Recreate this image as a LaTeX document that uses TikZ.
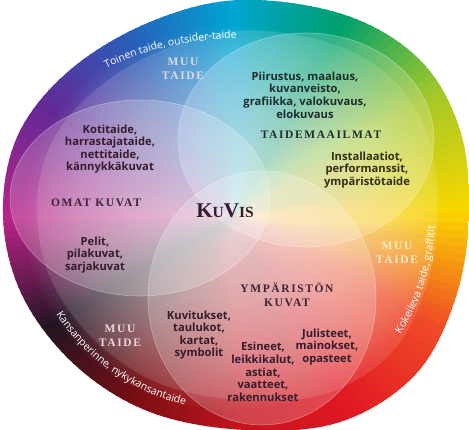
\documentclass[tikz,border=0pt]{standalone}
\usepackage{fontspec}
\setsansfont{Open Sans}
\newfontfamily\titlefont{Liberation Serif}[LetterSpace=14]
\newfontfamily\kuvisfont{Liberation Serif}
\usetikzlibrary{decorations.text}

% wheel colours, every 30 degrees
\definecolor{hue0}{RGB}{250,215,0}
\definecolor{hue1}{RGB}{165,200,40}
\definecolor{hue2}{RGB}{0,160,110}
\definecolor{hue3}{RGB}{0,165,210}
\definecolor{hue4}{RGB}{40,95,185}
\definecolor{hue5}{RGB}{100,40,150}
\definecolor{hue6}{RGB}{185,35,135}
\definecolor{hue7}{RGB}{35,20,35}
\definecolor{hue8}{RGB}{120,15,20}
\definecolor{hue9}{RGB}{195,20,30}
\definecolor{hue10}{RGB}{225,25,35}
\definecolor{hue11}{RGB}{240,75,40}

\definecolor{itemdark}{RGB}{52,28,45}
\definecolor{greendark}{RGB}{28,45,45}
\definecolor{olivedark}{RGB}{50,45,20}
\definecolor{titledark}{RGB}{62,35,55}
\definecolor{muulight}{RGB}{220,218,240}
\definecolor{muucream}{RGB}{250,230,200}
\definecolor{muupink}{RGB}{238,215,225}

\def\rimpath{plot[smooth cycle, tension=0.6] coordinates {
  (240,430) (345,415) (420,370) (460,300) (469,215) (455,130) (415,55) (340,8)
  (245,0) (150,18) (75,65) (22,135) (3,215) (18,295) (70,360) (150,408)}}
\def\curvefont{\color{white}\sffamily\fontsize{10.5}{11}\selectfont}
\def\kuvis{\kuvisfont\bfseries\fontsize{21}{20}\selectfont K\fontsize{15.5}{20}\selectfont U\fontsize{21}{20}\selectfont V\fontsize{15.5}{20}\selectfont IS}

\begin{document}
\begin{tikzpicture}[x=1pt, y=1pt,
    itemtext/.style={
      font=\sffamily\bfseries\fontsize{11.2}{12.6}\selectfont,
      align=center, text=itemdark, inner sep=0pt
    },
    titletext/.style={
      font=\titlefont\bfseries\fontsize{11.5}{14.5}\selectfont,
      align=center, inner sep=0pt
    },
    venn/.style={
      fill=white, fill opacity=0.2, draw=white, draw opacity=0.35, line width=0.6pt
    },
    curvetext/.style={
      decorate, decoration={text along path, text align=left, text={#1}}
    }
  ]
    \useasboundingbox (0,0) rectangle (469,430);
    \coordinate (wc) at (236,215);
    \coordinate (glow) at (232,212);
    \coordinate (arcc) at (245,215);

    \begin{scope}
      \clip \rimpath;
      % colour wheel
      \foreach \ca/\cb [count=\k from 0] in {hue0/hue1,hue1/hue2,hue2/hue3,hue3/hue4,
          hue4/hue5,hue5/hue6,hue6/hue7,hue7/hue8,hue8/hue9,hue9/hue10,hue10/hue11,hue11/hue0} {
        \foreach \s in {0,...,14} {
          \pgfmathsetmacro\ang{\k*30+\s*2}
          \pgfmathsetmacro\mix{\s*100/15}
          \fill[\cb!\mix!\ca] (wc) -- +(\ang:330) -- +(\ang+2.6:330) -- cycle;
        }
      }
      % lighter inside of the rim
      \fill[white, opacity=0.12, scale around={0.86:(245,212)}] \rimpath;
      \foreach \i in {1,...,44}
        \fill[white, opacity=0.028] (glow) ellipse ({212*(1-\i/46)} and {196*(1-\i/46)});

      \foreach \cx/\cy/\rx/\ry in {140/232/130/98, 306/290/128/107, 262/132/114/127}
        \filldraw[venn] (\cx,\cy) ellipse ({\rx} and {\ry});
    \end{scope}

    % texts on the rim
    \path[curvetext={|\curvefont|Toinen taide, outsider-taide}]
      ([shift={(124:248 and 177)}]arcc) arc[start angle=124, end angle=80, x radius=248, y radius=177];
    \path[curvetext={|\curvefont|Kokeileva taide, graffitit}]
      ([shift={(-35:190 and 208)}]arcc) arc[start angle=-35, end angle=2, x radius=190, y radius=208];
    \path[curvetext={|\curvefont|Kansanperinne, nykykansantaide}]
      ([shift={(210:218 and 198)}]arcc) arc[start angle=210, end angle=262, x radius=218, y radius=198];

    \foreach \px/\py/\col [count=\i] in {183/361/muulight, 397/177/muucream, 120/94/muupink}
      \node[titletext, text=\col] (muu\i) at (\px,\py) {MUU\\TAIDE};

    \node[titletext, text=titledark] (omat) at (96,227) {OMAT KUVAT};
    \node[titletext, text=greendark] (taidemaailmat) at (321,295) {TAIDEMAAILMAT};
    \node[titletext, text=titledark] (ymparisto) at (287,135) {YMPÄRISTÖN\\KUVAT};
    \node[text=itemdark, inner sep=0pt] (kuvis) at (225,219) {\kuvis};

    \node[itemtext] (koti) at (110,281) {Kotitaide,\\harrastajataide,\\nettitaide,\\kännykkäkuvat};
    \node[itemtext] (pelit) at (95,175) {Pelit,\\pilakuvat,\\sarjakuvat};
    \node[itemtext, text=greendark] (piirustus) at (305,335) {Piirustus, maalaus,\\kuvanveisto,\\grafiikka, valokuvaus,\\elokuvaus};
    \node[itemtext, text=olivedark] (install) at (367,260) {Installaatiot,\\performanssit,\\ympäristötaide};
    \node[itemtext] (kuvitus) at (199,95) {Kuvitukset,\\taulukot,\\kartat,\\symbolit};
    \node[itemtext] (esineet) at (263,58) {Esineet,\\leikkikalut,\\astiat,\\vaatteet,\\rakennukset};
    \node[itemtext] (juliste) at (327,83) {Julisteet,\\mainokset,\\opasteet};
\end{tikzpicture}
\end{document}
